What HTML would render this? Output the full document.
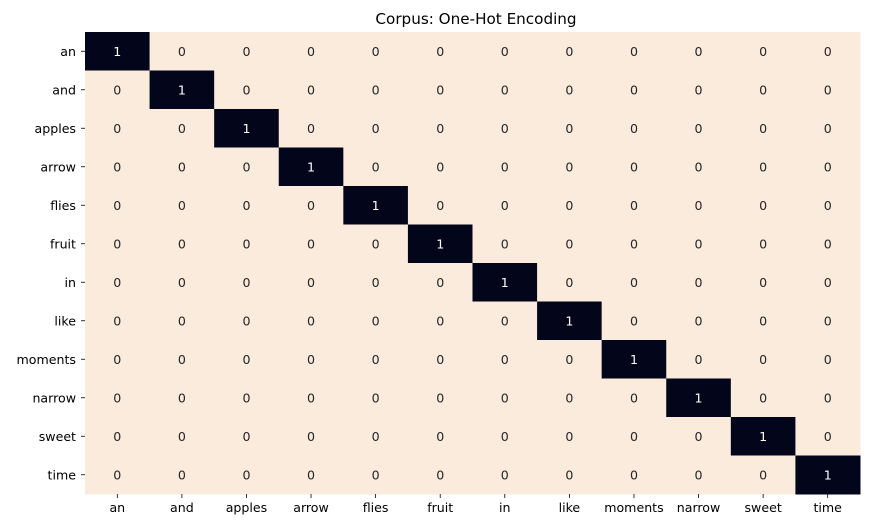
<!DOCTYPE html>
<html><head><meta charset="utf-8"><style>
body{margin:0;background:#fff;}
svg{display:block;font-family:"DejaVu Sans","Liberation Sans",sans-serif;}
</style></head><body>
<svg id="chart" width="870" height="528">
<text x="476" y="24" text-anchor="middle" font-size="15.2" fill="#000">Corpus: One-Hot Encoding</text>
<g id="cells"></g><g id="xaxis"></g><g id="yaxis"></g>
</svg>
<script>
const rowLabels=["an","and","apples","arrow","flies","fruit","in","like","moments","narrow","sweet","time"];
const colLabels=["an","and","apples","arrow","flies","fruit","in","like","moments","narrow","sweet","time"];
const values=[
[1,0,0,0,0,0,0,0,0,0,0,0],
[0,1,0,0,0,0,0,0,0,0,0,0],
[0,0,1,0,0,0,0,0,0,0,0,0],
[0,0,0,1,0,0,0,0,0,0,0,0],
[0,0,0,0,1,0,0,0,0,0,0,0],
[0,0,0,0,0,1,0,0,0,0,0,0],
[0,0,0,0,0,0,1,0,0,0,0,0],
[0,0,0,0,0,0,0,1,0,0,0,0],
[0,0,0,0,0,0,0,0,1,0,0,0],
[0,0,0,0,0,0,0,0,0,1,0,0],
[0,0,0,0,0,0,0,0,0,0,1,0],
[0,0,0,0,0,0,0,0,0,0,0,1]];
const NS="http://www.w3.org/2000/svg";
const L=85,T=32,R=860,B=494;
const cw=(R-L)/colLabels.length, ch=(B-T)/rowLabels.length;
const xS=i=>L+i*cw, yS=i=>T+i*ch;
function lerp(a,b,t){return Math.round(a+(b-a)*t);}
function color(v){const lo=[250,235,221],hi=[3,5,26];return `rgb(${lerp(lo[0],hi[0],v)},${lerp(lo[1],hi[1],v)},${lerp(lo[2],hi[2],v)})`;}
function mk(tag,attrs,parent){const e=document.createElementNS(NS,tag);for(const k in attrs)e.setAttribute(k,attrs[k]);parent.appendChild(e);return e;}
const cells=document.getElementById('cells');
values.forEach((row,r)=>row.forEach((v,c)=>{
 const rect=mk('rect',{x:xS(c),y:yS(r),width:cw+0.5,height:ch+0.5,fill:color(v)},cells);
 
 
 const t=mk('text',{x:xS(c)+cw/2,y:yS(r)+ch/2+4.5,'text-anchor':'middle','font-size':12.6,fill:v>0.5?'#fff':'#262626'},cells);
 t.textContent=v;
 
 
}));
const xa=document.getElementById('xaxis');
colLabels.forEach((lab,i)=>{
 const cx=xS(i)+cw/2;
 mk('line',{x1:cx,x2:cx,y1:B,y2:B+4,stroke:'#000','stroke-width':0.8},xa);
 const t=mk('text',{x:cx,y:B+18,'text-anchor':'middle','font-size':12.6,fill:'#000'},xa);
 t.textContent=lab;
 
 
});
const ya=document.getElementById('yaxis');
rowLabels.forEach((lab,i)=>{
 const cy=yS(i)+ch/2;
 mk('line',{x1:L-4,x2:L,y1:cy,y2:cy,stroke:'#000','stroke-width':0.8},ya);
 const t=mk('text',{x:L-9,y:cy+4.5,'text-anchor':'end','font-size':12.6,fill:'#000'},ya);
 t.textContent=lab;
 
 
});
</script>
</body></html>
